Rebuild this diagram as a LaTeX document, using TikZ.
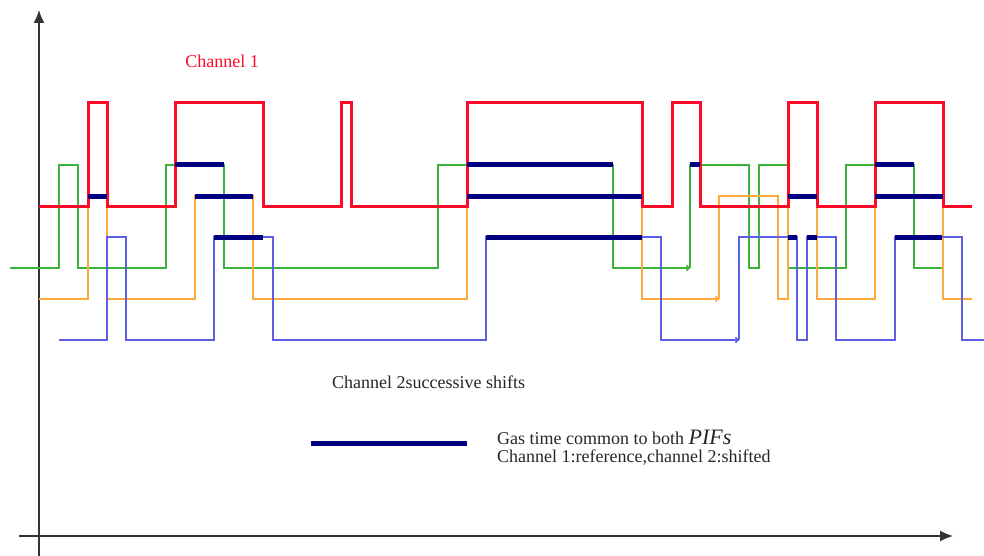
\documentclass[tikz,border=0pt]{standalone}
\usepackage{fontspec}
\setmainfont{Liberation Serif}
\usepackage{xcolor}
\usepackage{tikz}
\usetikzlibrary{arrows.meta,positioning}
\definecolor{chred}{RGB}{255,10,40}
\definecolor{chgreen}{RGB}{60,180,60}
\definecolor{chorange}{RGB}{255,168,60}
\definecolor{chblue}{RGB}{95,95,230}
\definecolor{gasnavy}{RGB}{0,0,128}
\tikzset{
  axis/.style={line width=1.4pt,black!80,-{Latex[length=13pt,width=11pt]}},
  refline/.style={line width=3pt,chred},
  shiftline/.style={line width=1.4pt},
  gasbar/.style={line width=5pt,gasnavy},
  tip/.style={-{To[length=4pt,width=6pt]}},
  txt/.style={font=\fontsize{18}{18}\selectfont,inner sep=0pt}
}
\newcommand{\gas}[3]{\draw[gasbar] (#1,#3)--(#2,#3);}

\begin{document}
\begin{tikzpicture}[x=1pt,y=-1pt]
\useasboundingbox (0,0) rectangle (984,556);

% axes
\draw[axis] (39,556) -- (39,10);
\draw[axis] (19,536) -- (953,536);

% channel 2, successive shifts
\draw[shiftline,chgreen] (10,268) -| (59,165) -| (78,268) -| (166,165) -| (224,268) -| (438,165) -| (613,268) -- (690,268);
\draw[shiftline,chgreen,tip] (676,268) -- (690,268);
\draw[shiftline,chgreen] (690,268) |- (749,165) |- (759,268) |- (788,165) |- (846,268) |- (914,165) |- (942,268);

\draw[shiftline,chorange] (39,299) -| (88,196) -| (107,299) -| (195,196) -| (253,299) -| (467,196) -| (642,299) -- (719,299);
\draw[shiftline,chorange,tip] (705,299) -- (719,299);
\draw[shiftline,chorange] (719,299) |- (778,196) |- (788,299) |- (817,196) |- (875,299) |- (943,196) |- (972,299);

\draw[shiftline,chblue] (59,340) -| (107,237) -| (126,340) -| (214,237) -| (273,340) -| (486,237) -| (661,340) -- (739,340);
\draw[shiftline,chblue,tip] (725,340) -- (739,340);
\draw[shiftline,chblue] (739,340) |- (797,237) |- (807,340) |- (836,237) |- (895,340) |- (962,237) |- (984,340);

% channel 1, reference
\draw[refline] (39,206) -| (88,103) -| (107,206) -| (175,103) -| (263,206) -| (341,103) -| (351,206) -| (467,103) -| (642,206) -| (672,103) -| (700,206) -| (788,103) -| (817,206) -| (875,103) -| (943,206) -- (972,206);

% common gas time
\gas{88}{107}{196}
\gas{175}{224}{165}
\gas{195}{253}{196}
\gas{214}{263}{237}
\gas{467}{613}{165}
\gas{467}{642}{196}
\gas{486}{642}{237}
\gas{690}{700}{165}
\gas{788}{817}{196}
\gas{788}{797}{237}
\gas{807}{817}{237}
\gas{875}{914}{165}
\gas{875}{943}{196}
\gas{895}{942}{237}

% labels
\node[txt,chred,anchor=base] (chone) at (222,68) {Channel 1};
\node[txt,black!85,anchor=base west] (chtwo) at (332,388) {Channel 2successive shifts};

% legend
\draw[gasbar] (311,443) coordinate (keyL) -- (467,443) coordinate (keyR);
\node[txt,black!85,anchor=base west] (gastext) at (497,444) {Gas time common to both {\fontsize{22}{22}\selectfont\itshape PIFs}};
\node[txt,black!85,anchor=base west] (roletext) at (497,462) {Channel 1:reference,channel 2:shifted};

\end{tikzpicture}
\end{document}
